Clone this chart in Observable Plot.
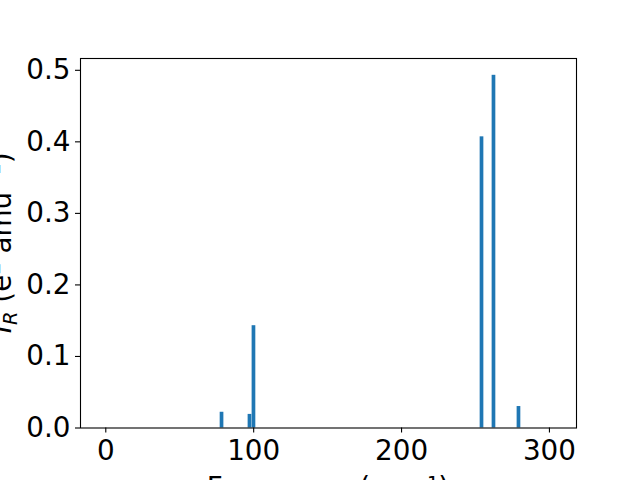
<!DOCTYPE html>
<html>
<head>
<meta charset="utf-8">
<script src="https://cdn.jsdelivr.net/npm/d3@7"></script>
<script src="https://cdn.jsdelivr.net/npm/@observablehq/plot@0.6"></script>
<style>
  html, body { margin: 0; padding: 0; background: #fff; }
  svg { display: block; }
</style>
</head>
<body>
<div id="chart"></div>
<script>
// Data
const frequencies = [78.6, 97.5, 100.2, 254.4, 262.5, 279.4];
const intensities = [0.022, 0.019, 0.143, 0.407, 0.493, 0.030];
const xTicks = [0, 100, 200, 300];
const yTicks = [0.0, 0.1, 0.2, 0.3, 0.4, 0.5];
const xLabel = "Frequency (cm⁻¹)";
const barWidth = 2.5;

const data = frequencies.map((f, i) => ({f, v: intensities[i]}));

const W = 640, H = 480;
const mL = 80, mR = 64, mT = 58, mB = 52.5;
const fs = 27.8;

const chart = Plot.plot({
  width: W,
  height: H,
  marginLeft: mL,
  marginRight: mR,
  marginTop: mT,
  marginBottom: mB,
  style: {fontFamily: "DejaVu Sans", fontSize: fs + "px", color: "#000", background: "#fff"},
  x: {domain: [-17.1, 318.3], ticks: xTicks},
  y: {domain: [0, 0.5165], ticks: yTicks},
  marks: [
    Plot.rectY(data, {x1: d => d.f - barWidth / 2, x2: d => d.f + barWidth / 2, y: "v", fill: "#1f77b4"}),
    Plot.frame({stroke: "#000", strokeWidth: 1.1}),
    Plot.axisX({ticks: xTicks, tickSize: 5, tickPadding: 7, label: null, fontSize: fs, tickFormat: d3.format("d"), strokeWidth: 1.1}),
    Plot.axisY({ticks: yTicks, tickSize: 5, tickPadding: 5, label: null, fontSize: fs, tickFormat: d3.format(".1f"), strokeWidth: 1.1})
  ]
});

document.getElementById("chart").appendChild(chart);

const svg = d3.select(chart);
// x axis label
svg.append("text")
  .attr("x", mL + (W - mL - mR) / 2)
  .attr("y", 497)
  .attr("text-anchor", "middle")
  .attr("font-family", "DejaVu Sans")
  .attr("font-size", fs)
  .attr("fill", "#000")
  .text(xLabel);

// y axis label with subscript / superscripts
const yl = svg.append("text")
  .attr("transform", `translate(11,${mT + (H - mT - mB) / 2}) rotate(-90)`)
  .attr("text-anchor", "middle")
  .attr("font-family", "DejaVu Sans")
  .attr("font-size", fs)
  .attr("fill", "#000");
yl.append("tspan").attr("font-style", "italic").text("I");
yl.append("tspan").attr("font-style", "italic").attr("font-size", fs * 0.7).attr("dy", 6).text("R");
yl.append("tspan").attr("dy", -6).text(" (e");
yl.append("tspan").attr("font-size", fs * 0.7).attr("dy", -11).text("2");
yl.append("tspan").attr("dy", 11).text(" amu");
yl.append("tspan").attr("font-size", fs * 0.7).attr("dy", -11).text("−1");
yl.append("tspan").attr("dy", 11).text(")");
</script>
</body>
</html>
